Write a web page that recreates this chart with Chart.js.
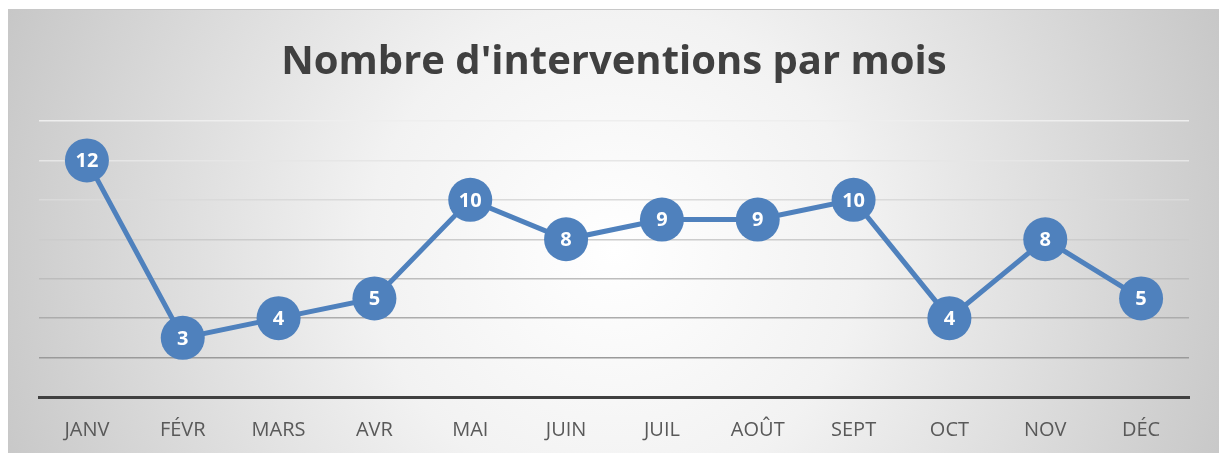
<!DOCTYPE html>
<html>
<head>
<meta charset="utf-8">
<script src="https://cdn.jsdelivr.net/npm/chart.js@4.4.0/dist/chart.umd.min.js"></script>
<style>
  html, body { margin: 0; padding: 0; background: #ffffff; }
  #wrap { width: 1219px; height: 453px; position: relative; }
</style>
</head>
<body>
<div id="wrap"><canvas id="chart"></canvas></div>
<script>
const months = ["JANV", "FÉVR", "MARS", "AVR", "MAI", "JUIN", "JUIL", "AOÛT", "SEPT", "OCT", "NOV", "DÉC"];
const interventions = [12, 3, 4, 5, 10, 8, 9, 9, 10, 4, 8, 5];
const chartTitle = "Nombre d'interventions par mois";

const gridColors = ["#8a8a8a", "#9a9a9a", "#acacac", "#bdbdbd", "#cccccc", "#dadada", "#e6e6e6", "#eeeeee"];

const backgroundPlugin = {
  id: "panelBackground",
  beforeDraw(chart) {
    const { ctx, width, height } = chart;
    const x0 = 8;
    const y0 = 9;
    ctx.save();
    const grad = ctx.createRadialGradient(614, 250, 0, 614, 250, 700);
    grad.addColorStop(0, "#ffffff");
    grad.addColorStop(0.35, "#f2f2f2");
    grad.addColorStop(1, "#c2c2c2");
    ctx.fillStyle = grad;
    ctx.fillRect(x0, y0, width - x0, height - y0);
    ctx.strokeStyle = "#c8c8c8";
    ctx.lineWidth = 1;
    ctx.strokeRect(x0 + 0.5, y0 + 0.5, width - x0, height - y0);
    ctx.restore();
  },
};

const pointLabelPlugin = {
  id: "pointLabels",
  afterDatasetsDraw(chart) {
    const { ctx } = chart;
    const meta = chart.getDatasetMeta(0);
    ctx.save();
    ctx.fillStyle = "#ffffff";
    ctx.font = "bold 20px 'Open Sans', sans-serif";
    ctx.textAlign = "center";
    ctx.textBaseline = "middle";
    meta.data.forEach((pt, i) => {
      ctx.fillText(String(interventions[i]), pt.x, pt.y + 1);
    });
    ctx.restore();
  },
};

new Chart(document.getElementById("chart"), {
  type: "line",
  data: {
    labels: months,
    datasets: [
      {
        label: "Interventions",
        data: interventions,
        borderColor: "#4f81bd",
        backgroundColor: "#4f81bd",
        borderWidth: 5,
        pointRadius: 22,
        pointHoverRadius: 22,
        pointBorderWidth: 0,
        pointBackgroundColor: "#4f81bd",
        tension: 0,
        clip: false,
      },
    ],
  },
  options: {
    responsive: true,
    maintainAspectRatio: false,
    animation: false,
    layout: {
      autoPadding: false,
      padding: { left: 39, right: 30, top: 0, bottom: -10 },
    },
    plugins: {
      legend: { display: false },
      tooltip: { enabled: false },
      title: {
        display: true,
        text: chartTitle,
        color: "#404040",
        font: { family: "'Open Sans', sans-serif", size: 40, weight: "bold" },
        padding: { top: 39, bottom: 34 },
      },
    },
    scales: {
      x: {
        offset: true,
        grid: { display: false, drawTicks: false },
        border: { display: true, color: "#404040", width: 3 },
        ticks: {
          color: "#595959",
          padding: 21,
          font: { family: "'Open Sans', sans-serif", size: 20 },
        },
      },
      y: {
        min: 0,
        max: 14,
        ticks: { display: false, stepSize: 2 },
        border: { display: false },
        grid: {
          drawTicks: false,
          lineWidth: 1.5,
          color: (c) => gridColors[c.index] || "#cccccc",
        },
      },
    },
  },
  plugins: [backgroundPlugin, pointLabelPlugin],
});
</script>
</body>
</html>
